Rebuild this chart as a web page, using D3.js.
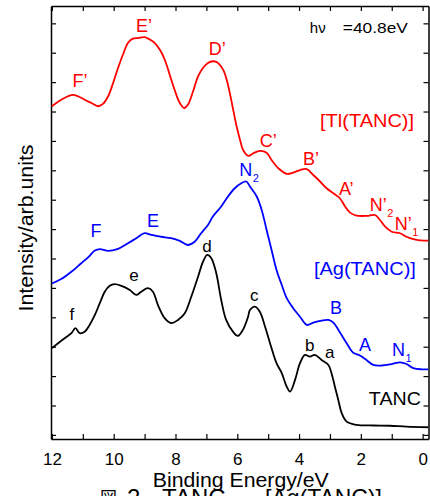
<!DOCTYPE html>
<html>
<head>
<meta charset="utf-8">
<script src="https://cdn.jsdelivr.net/npm/d3@7"></script>
<style>
  html, body { margin: 0; padding: 0; background: #fff; }
  svg { display: block; }
  text { font-family: "Liberation Sans", Arial, sans-serif; }
</style>
</head>
<body>
<svg id="chart" width="430" height="496"></svg>
<script>
// ---- data (binding energy in eV, intensity in arb. units) ----
const energyTl = [12.00,11.70,11.48,11.32,11.16,10.94,10.72,10.51,10.35,10.18,10.02,9.86,9.70,9.54,9.38,9.21,9.00,8.83,8.67,8.51,8.35,8.19,8.03,7.86,7.72,7.60,7.43,7.27,7.11,6.95,6.79,6.68,6.61,6.45,6.34,6.24,6.13,6.02,5.91,5.81,5.64,5.48,5.27,5.05,4.89,4.67,4.40,4.19,3.97,3.75,3.54,3.32,3.11,2.89,2.68,2.51,2.35,2.14,1.81,1.54,1.38,1.22,1.00,0.73,0.52,0.30,-0.02,-0.18];
const intensityTl = [11.18,11.40,11.52,11.57,11.52,11.40,11.29,11.18,11.26,11.52,11.97,12.48,12.94,13.33,13.48,13.50,13.53,13.45,13.33,13.11,12.77,12.26,11.74,11.29,11.12,11.23,11.69,12.20,12.48,12.65,12.71,12.69,12.64,12.41,12.07,11.62,11.05,10.49,10.03,9.69,9.49,9.58,9.66,9.60,9.35,9.07,8.88,8.92,9.01,9.04,8.84,8.62,8.39,8.22,8.05,7.77,7.56,7.46,7.45,7.48,7.31,7.09,6.91,6.86,6.74,6.66,6.61,6.61];

const energyAg = [12.00,11.70,11.37,11.05,10.83,10.61,10.45,10.18,9.86,9.54,9.27,9.00,8.78,8.46,8.14,7.86,7.60,7.38,7.17,6.95,6.79,6.52,6.30,6.08,5.87,5.71,5.59,5.37,5.21,5.05,4.89,4.73,4.56,4.40,4.19,3.97,3.75,3.54,3.27,3.05,2.89,2.68,2.46,2.25,2.03,1.81,1.60,1.33,1.00,0.73,0.52,0.30,0.03,-0.18];
const intensityAg = [5.15,5.30,5.55,5.84,6.04,6.27,6.32,6.26,6.33,6.52,6.69,6.86,6.80,6.74,6.69,6.60,6.46,6.57,6.86,7.14,7.43,7.77,8.11,8.39,8.56,8.62,8.45,8.11,7.65,6.97,6.29,5.61,5.10,4.65,4.31,4.02,3.74,3.82,3.89,3.91,3.82,3.49,3.12,2.80,2.70,2.54,2.38,2.36,2.41,2.47,2.41,2.27,2.23,2.23];

const energyTANC = [12.00,11.80,11.59,11.37,11.24,11.10,10.94,10.78,10.61,10.45,10.29,10.13,9.97,9.75,9.48,9.27,9.11,8.89,8.73,8.57,8.35,8.14,7.92,7.70,7.49,7.27,7.11,6.97,6.84,6.68,6.52,6.36,6.14,5.98,5.82,5.65,5.59,5.43,5.27,5.10,4.94,4.73,4.56,4.40,4.29,4.13,3.97,3.81,3.65,3.49,3.27,3.05,2.95,2.84,2.73,2.62,2.46,2.14,1.60,1.06,0.52,-0.18];
const intensityTANC = [2.95,3.12,3.29,3.46,3.63,3.46,3.51,3.74,4.08,4.48,4.87,5.07,5.13,5.07,4.93,4.76,4.87,4.99,4.87,4.42,3.97,3.80,3.91,4.14,4.70,5.38,5.89,6.12,6.01,5.50,4.59,3.91,3.51,3.37,3.57,4.02,4.25,4.36,4.19,3.68,3.12,2.44,2.10,1.64,1.47,1.87,2.44,2.72,2.66,2.72,2.55,2.38,2.10,1.64,1.19,0.74,0.45,0.34,0.32,0.31,0.28,0.26];

const xTickValues = [12,11,10,9,8,7,6,5,4,3,2,1,0];
const xTickLabels = ["12","","10","","8","","6","","4","","2","","0"];
const yTickValues = [0,1,2,3,4,5,6,7,8,9,10,11,12,13,14];

// peak labels: [main text, prime, subscript, energy, intensity]
const labelsTl = [["F","’","",11.33,11.84],["E","’","",9.28,13.71],["D","’","",6.92,12.93],["C","’","",5.27,9.81],["B","’","",3.87,9.18],["A","’","",2.71,8.16],["N","’","2",1.71,7.60],["N","’","1",0.90,6.97]];
const labelsAg = [["F","","",10.75,6.72],["E","","",8.92,7.06],["N","","2",5.94,8.79],["B","","",3.00,4.12],["A","","",2.06,2.87],["N","","1",0.99,2.67]];
const labelsTANC = [["f","","",11.43,3.91],["e","","",9.50,5.22],["d","","",7.13,6.21],["c","","",5.59,4.54],["b","","",3.81,2.86],["a","","",3.16,2.62]];
const seriesNames = [["[Tl(TANC)]",3.32,10.49],["[Ag(TANC)]",3.52,5.44],["TANC",1.74,1.00]];
const photonText = ["hν","=40.8eV"];
const photonPos = [3.65,13.66];
const xTitle = "Binding Energy/eV";
const yTitle = "Intensity/arb.units";
const caption = ["図","2.","TANC,","[Ag(TANC)]"];

// ---- layout ----
const svg = d3.select("#chart");
const L = 51, R = 428.5, T = 6, B = 439;
const x = d3.scaleLinear().domain([12.03, -0.19]).range([L, R]);
const y = d3.scaleLinear().domain([-0.14, 14.59]).range([B, T]);

const RED = "#ff0000", BLUE = "#0000ff", BLACK = "#000000";

// axes (ticks inward)
const axisStyle = g => {
  g.selectAll(".domain").attr("stroke", "#000").attr("stroke-width", 1.5);
  g.selectAll(".tick line").attr("stroke", "#000").attr("stroke-width", 1.2);
};
svg.append("g").attr("transform", `translate(0,${B})`)
  .call(d3.axisBottom(x).tickValues(xTickValues).tickSize(-5).tickSizeOuter(0).tickPadding(14)
    .tickFormat((d, i) => xTickLabels[i]))
  .call(axisStyle)
  .call(g => g.selectAll(".tick text").attr("font-size", 17).attr("fill", "#000")
    .attr("font-family", "'Liberation Sans', Arial, sans-serif"));
svg.append("g").attr("transform", `translate(0,${T})`)
  .call(d3.axisTop(x).tickValues(xTickValues).tickSize(-5).tickSizeOuter(0).tickFormat(""))
  .call(axisStyle);
svg.append("g").attr("transform", `translate(${L},0)`)
  .call(d3.axisLeft(y).tickValues(yTickValues).tickSize(-5).tickSizeOuter(0).tickFormat(""))
  .call(axisStyle);
svg.append("g").attr("transform", `translate(${R},0)`)
  .call(d3.axisRight(y).tickValues(yTickValues).tickSize(-5).tickSizeOuter(0).tickFormat(""))
  .call(axisStyle);

// curves
const line = d3.line().x(d => x(d[0])).y(d => y(d[1])).curve(d3.curveCatmullRom.alpha(0.5));
const series = [
  [d3.zip(energyTl, intensityTl), RED],
  [d3.zip(energyAg, intensityAg), BLUE],
  [d3.zip(energyTANC, intensityTANC), BLACK]
];
series.forEach(([pts, col]) => {
  svg.append("path").datum(pts).attr("d", line)
    .attr("fill", "none").attr("stroke", col).attr("stroke-width", 1.8)
    .attr("stroke-linejoin", "round");
});

// peak labels
function drawLabels(list, col, size) {
  list.forEach(([main, prime, sub, e, v]) => {
    const t = svg.append("text").attr("x", x(e)).attr("y", y(v))
      .attr("fill", col).attr("font-size", size);
    t.append("tspan").text(main + prime);
    if (sub) t.append("tspan").attr("font-size", 11).attr("dy", 6).attr("dx", 0.5).text(sub);
  });
}
drawLabels(labelsTl, RED, 18);
drawLabels(labelsAg, BLUE, 18);
drawLabels(labelsTANC, BLACK, 17);

// series names
const nameColors = [RED, BLUE, BLACK];
const nameLengths = [94, 102, 52];
seriesNames.forEach(([txt, e, v], i) => {
  svg.append("text").attr("x", x(e)).attr("y", y(v)).attr("fill", nameColors[i])
    .attr("font-size", 18).attr("textLength", nameLengths[i]).attr("lengthAdjust", "spacingAndGlyphs")
    .text(txt);
});

// photon energy
svg.append("text").attr("x", x(photonPos[0])).attr("y", y(photonPos[1]))
  .attr("font-size", 15).attr("fill", "#000").text(photonText[0]);
svg.append("text").attr("x", x(photonPos[0]) + 33).attr("y", y(photonPos[1]))
  .attr("font-size", 15).attr("fill", "#000").attr("textLength", 65).attr("lengthAdjust", "spacingAndGlyphs")
  .text(photonText[1]);

// axis titles
svg.append("text").attr("x", (L + R) / 2 + 1).attr("y", 487).attr("text-anchor", "middle")
  .attr("font-size", 20).attr("fill", "#000").attr("textLength", 176).attr("lengthAdjust", "spacingAndGlyphs")
  .text(xTitle);
svg.append("text").attr("transform", "translate(33,228) rotate(-90)").attr("text-anchor", "middle")
  .attr("font-size", 20).attr("fill", "#000").attr("textLength", 167).attr("lengthAdjust", "spacingAndGlyphs")
  .text(yTitle);

// figure caption (cut off at bottom)
const cap = svg.append("text").attr("y", 506).attr("fill", "#000")
  .attr("font-family", "'Liberation Serif', 'Times New Roman', serif").attr("font-size", 24);
cap.append("tspan").attr("x", 100).attr("y", 504).attr("font-size", 17)
  .attr("font-family", "'Noto Sans CJK JP', sans-serif").text(caption[0]);
cap.append("tspan").attr("x", 127).attr("y", 506).text(caption[1]);
cap.append("tspan").attr("x", 162).text(caption[2]);
cap.append("tspan").attr("x", 265).attr("textLength", 117).attr("lengthAdjust", "spacingAndGlyphs").text(caption[3]);
</script>
</body>
</html>
